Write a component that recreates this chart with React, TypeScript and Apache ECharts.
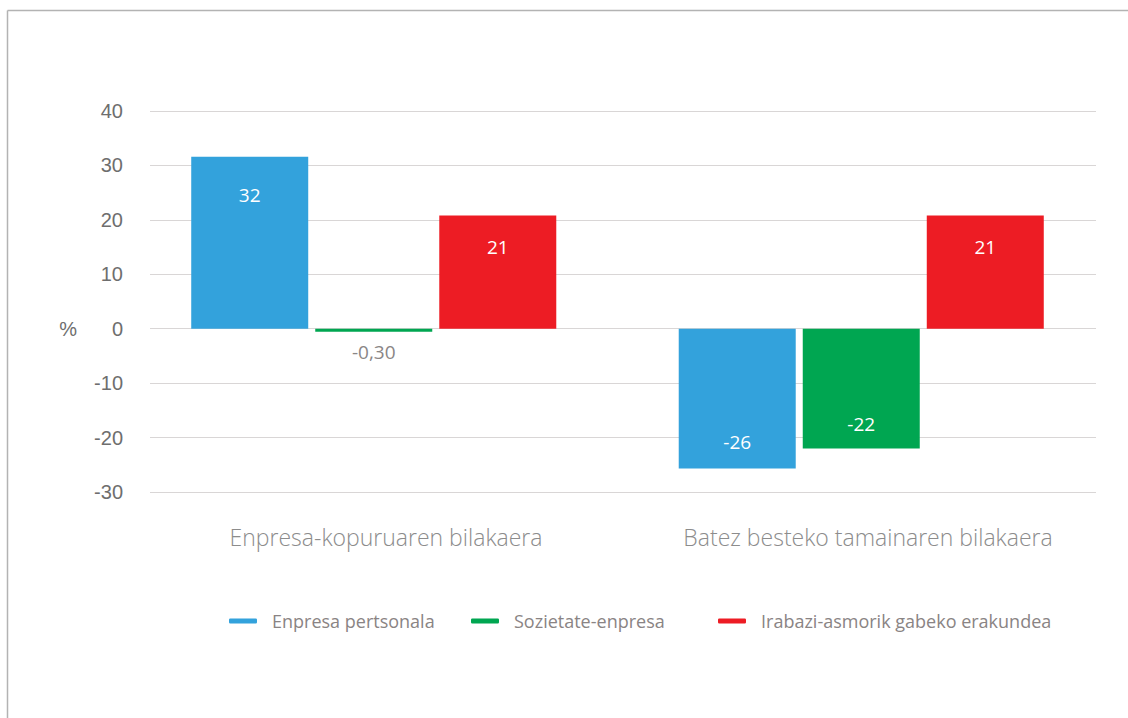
import React, { useEffect, useRef } from "react";
import * as echarts from "echarts";

const categories = ["Enpresa-kopuruaren bilakaera", "Batez besteko tamainaren bilakaera"];
const seriesNames = ["Enpresa pertsonala", "Sozietate-enpresa", "Irabazi-asmorik gabeko erakundea"];
const enpresaPertsonala = [31.6, -25.7];
const sozietateEnpresa = [-0.3, -22.0];
const irabaziAsmorikGabe = [20.8, 20.8];
const enpresaPertsonalaLabels = ["32", "-26"];
const sozietateEnpresaLabels = ["-0,30", "-22"];
const irabaziAsmorikGabeLabels = ["21", "21"];
const yAxisName = "%";
const yMin = -30;
const yMax = 40;
const yInterval = 10;

// layout only
const labelOffsets = [
  [-48, 43],
  [22, 35],
  [-25, -25],
];
const legendLefts = [229, 471, 718];
const colors = ["#33a2dc", "#00a651", "#ed1c24"];

export default function App() {
  const ref = useRef<HTMLDivElement>(null);
  useEffect(() => {
    if (!ref.current) return;
    const chart = echarts.init(ref.current, null, { renderer: "svg" });
    const values = [enpresaPertsonala, sozietateEnpresa, irabaziAsmorikGabe];
    const labels = [enpresaPertsonalaLabels, sozietateEnpresaLabels, irabaziAsmorikGabeLabels];
    const top = 111;
    const bottom = 718 - 492;
    const series = seriesNames.map((name, si) => ({
      name,
      type: "bar",
      xAxisIndex: 1,
      yAxisIndex: 1,
      barWidth: 117,
      barGap: "6%",
      barMinHeight: 3,
      itemStyle: { color: colors[si] },
      data: values[si].map((v, i) => {
        const small = Math.abs(v) < 1;
        return {
          value: v,
          label: {
            show: true,
            position: "inside",
            offset: [0, labelOffsets[si][i]],
            formatter: labels[si][i],
            color: small ? "#8a8686" : "#ffffff",
            fontFamily: "Open Sans",
            fontSize: 19,
          },
        };
      }),
    }));
    chart.setOption({
      animation: false,
      backgroundColor: "#ffffff",
      color: colors,
      grid: [
        { left: 150, right: 32, top, bottom },
        { left: 130, right: 23, top, bottom },
        { left: 145, right: 19, top, bottom },
      ],
      xAxis: [
        { type: "category", gridIndex: 0, data: categories, show: false },
        { type: "category", gridIndex: 1, data: categories, show: false },
        {
          type: "category",
          gridIndex: 2,
          data: categories,
          axisLine: { show: false },
          axisTick: { show: false },
          axisLabel: {
            margin: 33,
            color: "#8c8c8c",
            fontSize: 23,
            fontFamily: "Open Sans",
            fontWeight: 300,
          },
        },
      ],
      yAxis: [
        {
          type: "value",
          gridIndex: 0,
          min: yMin,
          max: yMax,
          interval: yInterval,
          axisLine: { show: false },
          axisTick: { show: false },
          axisLabel: { margin: 27, color: "#6e6e6e", fontSize: 20, fontFamily: "Liberation Sans" },
          splitLine: { lineStyle: { color: "#d9d6d6", width: 1 } },
        },
        { type: "value", gridIndex: 1, min: yMin, max: yMax, interval: yInterval, show: false, splitLine: { show: false } },
        { type: "value", gridIndex: 2, min: yMin, max: yMax, interval: yInterval, show: false, splitLine: { show: false } },
      ],
      legend: seriesNames.map((n, i) => ({
        data: [n],
        left: legendLefts[i],
        top: 612,
        padding: 0,
        icon: "roundRect",
        itemWidth: 28,
        itemHeight: 5,
        textStyle: { color: "#8a8484", fontSize: 18, fontFamily: "Open Sans", padding: [0, 0, 0, 10] },
      })),
      graphic: [
        {
          type: "line",
          shape: { x1: 7.5, y1: 10.5, x2: 1128, y2: 10.5 },
          style: { stroke: "#b3b3b3", lineWidth: 1.5 },
          silent: true,
        },
        {
          type: "line",
          shape: { x1: 7.5, y1: 10.5, x2: 7.5, y2: 718 },
          style: { stroke: "#b3b3b3", lineWidth: 1.5 },
          silent: true,
        },
        {
          type: "text",
          x: 77,
          y: 329,
          style: {
            text: yAxisName,
            fill: "#6e6e6e",
            fontSize: 20,
            fontFamily: "Liberation Sans",
            align: "right",
            verticalAlign: "middle",
          },
          silent: true,
        },
      ],
      series,
    });
    return () => chart.dispose();
  }, []);
  return (
    <div
      ref={ref}
      style={{ position: "absolute", left: 0, top: 0, width: 1128, height: 718 }}
    />
  );
}
